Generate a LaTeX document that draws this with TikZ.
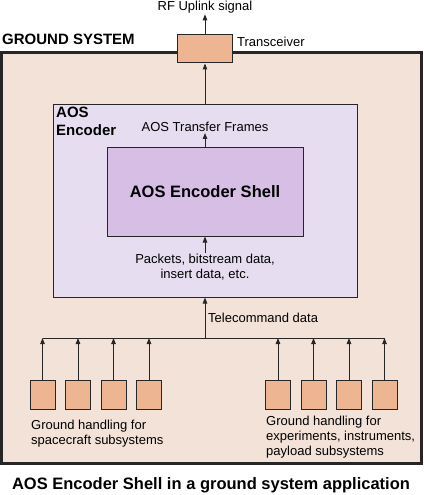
\documentclass[tikz,border=0pt]{standalone}
\usepackage{fontspec}
\setmainfont{Liberation Sans}
\usetikzlibrary{arrows.meta}

\definecolor{groundfill}{RGB}{243,226,216}
\definecolor{salmon}{RGB}{238,181,146}
\definecolor{encfill}{RGB}{230,222,240}
\definecolor{shellfill}{RGB}{214,190,228}

\newcommand{\txt}{\fontsize{13}{15}\selectfont}
\newcommand{\bigbold}{\fontsize{16.5}{19}\selectfont\bfseries}
\newcommand{\midbold}{\fontsize{15}{18}\selectfont\bfseries}

\tikzset{
  unitbox/.style={draw=black!85, line width=1pt, fill=salmon, minimum width=25pt, minimum height=29pt, inner sep=0pt},
  flow/.style={-{Triangle[length=6pt,width=4.5pt]}, line width=1pt, draw=black!85},
  lbl/.style={inner sep=1pt, font=\txt}
}

\begin{document}
\begin{tikzpicture}[x=1pt, y=-1pt]
    \useasboundingbox (0,0) rectangle (423,495);

    % ground system frame
    \draw[fill=groundfill, line width=3pt, draw=black!85] (1.5,52.5) rectangle (421.5,463.5);
    \node[anchor=west, inner sep=0pt, font=\midbold] (gs) at (2,39) {GROUND SYSTEM};

    % transceiver and uplink
    \node[unitbox, minimum width=55pt, minimum height=28pt] (trx) at (205,49) {};
    \node[lbl, anchor=west] (trxlbl) at (236,42) {Transceiver};
    \node[lbl] (rf) at (205,7) {RF Uplink signal};
    \draw[flow] (trx.north) -- (rf.south);

    % AOS encoder
    \node[draw=black!85, line width=1pt, fill=encfill, minimum width=304pt, minimum height=193pt, inner sep=0pt] (enc) at (205,200.5) {};
    \node[anchor=north west, align=left, inner sep=0pt, font=\midbold] (enclbl) at (56,107) {AOS\\Encoder};
    \draw[flow] (enc.north) -- (trx.south);

    \node[draw=black!85, line width=1pt, fill=shellfill, minimum width=196pt, minimum height=89pt, font=\bigbold] (shell) at (205,191.5) {AOS Encoder Shell};
    \node[lbl] (frames) at (205,127) {AOS Transfer Frames};
    \draw[flow] (shell.north) -- (frames.south);

    \node[lbl, align=center] (packets) at (205,267) {Packets, bitstream data,\\insert data, etc.};
    \draw[flow] (packets.north) -- (shell.south);

    % telecommand bus
    \coordinate (bus) at (205,338);
    \draw[flow] (bus) -- (enc.south);
    \node[lbl, anchor=west] (tc) at (207,318) {Telecommand data};

    % ground handling boxes
    \foreach \i/\x in {1/42.5, 2/78, 3/113.5, 4/149, 5/278, 6/313.5, 7/349, 8/384.5} {
      \node[unitbox] (gh\i) at (\x,394.5) {};
      \draw[flow] (gh\i.north) -- (gh\i.north |- bus);
    }
    \draw[line width=1pt, draw=black!85] (gh1.north |- bus) -- (gh8.north |- bus);

    \node[lbl, anchor=north west, align=left] (sclbl) at (30,419) {Ground handling for\\spacecraft subsystems};
    \node[lbl, anchor=north west, align=left] (pllbl) at (265,415) {Ground handling for\\experiments, instruments,\\payload subsystems};

    % caption
    \node[inner sep=0pt, font=\bigbold] (caption) at (211,485) {AOS Encoder Shell in a ground system application};
\end{tikzpicture}
\end{document}
